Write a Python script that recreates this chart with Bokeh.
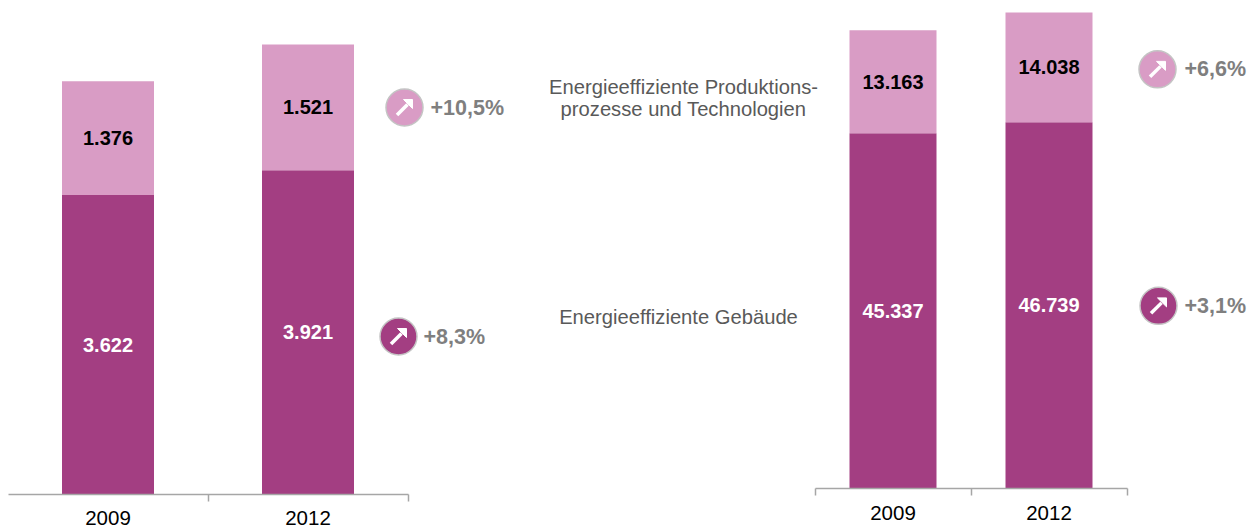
from bokeh.embed import file_html
from bokeh.resources import INLINE
from bokeh.plotting import figure
from bokeh.layouts import row
from bokeh.models import Range1d, LinearAxis, FixedTicker
from bokeh.core.properties import value

years = ["2009", "2012"]
left_gebaeude = [3622, 3921]
left_produktion = [1376, 1521]
right_gebaeude = [45337, 46739]
right_produktion = [13163, 14038]
label_gebaeude = "Energieeffiziente Gebäude"
label_produktion = ["Energieeffiziente Produktions-", "prozesse und Technologien"]

DARK, LIGHT = "#A33E82", "#D99CC5"
GREY, AXIS = "#7F7F7F", "#A6A6A6"
FONT = value("Liberation Sans")
fmt = lambda v: f"{v:,}".replace(",", ".")


def chart(x0, border_left, frame_w, frame_h, bottom, unit_px, val_px, bar_w, low, high, standoff):
    p = figure(width=border_left + frame_w, height=frame_h + bottom, output_backend="svg", toolbar_location=None,
               x_range=Range1d(x0, x0 + frame_w / unit_px), y_range=Range1d(0, frame_h / val_px),
               min_border_left=border_left, min_border_right=0, min_border_top=0, min_border_bottom=bottom,
               outline_line_color=None, background_fill_color=None, border_fill_color=None,
               x_axis_location=None, y_axis_location=None)
    p.grid.visible = False
    xs = [0.5, 1.5]
    totals = [a + b for a, b in zip(low, high)]
    p.vbar(x=xs, width=bar_w, bottom=0, top=low, fill_color=DARK, line_color=None)
    p.vbar(x=xs, width=bar_w, bottom=low, top=totals, fill_color=LIGHT, line_color=None)
    p.text(x=xs, y=[v / 2 for v in low], text=[fmt(v) for v in low], text_color="white",
           text_font=FONT, text_font_style="bold", text_font_size="20px",
           text_align="center", text_baseline="middle")
    p.text(x=xs, y=[a + b / 2 for a, b in zip(low, high)], text=[fmt(v) for v in high], text_color="black",
           text_font=FONT, text_font_style="bold", text_font_size="20px",
           text_align="center", text_baseline="middle")
    axis = LinearAxis(ticker=FixedTicker(ticks=xs, minor_ticks=[0, 1, 2]), bounds=(0, 2),
                      major_label_overrides={0.5: years[0], 1.5: years[1]},
                      major_tick_in=0, major_tick_out=0, minor_tick_in=0, minor_tick_out=7,
                      axis_line_color=AXIS, minor_tick_line_color=AXIS, axis_line_width=1.5,
                      minor_tick_line_width=1.5, major_label_standoff=standoff,
                      major_label_text_font="Liberation Sans", major_label_text_font_size="20.5px",
                      major_label_text_color="black")
    p.add_layout(axis, "below")
    return p


def badge(p, to_x, to_y, cx, cy, colour, text, tx):
    p.scatter([to_x(cx)], [to_y(cy)], size=37, fill_color=colour, line_color="#C4C4C4", line_width=1.5)
    p.segment([to_x(cx - 7.5)], [to_y(cy + 7.5)], [to_x(cx + 3)], [to_y(cy - 3)],
              line_color="white", line_width=3.5)
    p.patch([to_x(cx + 8), to_x(cx - 1), to_x(cx + 8)], [to_y(cy - 8), to_y(cy - 8), to_y(cy + 1)],
            fill_color="white", line_color="white", line_width=1)
    p.text([to_x(tx)], [to_y(cy)], text=[text], text_color=GREY, text_font=FONT, text_font_style="bold",
           text_font_size="21.5px", text_align="left", text_baseline="middle")


# Left chart: frame spans page x 8..538, y 0..494
L_X, L_Y = 200, 0.0827
L0 = 0.5 / L_X
left = chart(L0, 8, 530, 494, 38, L_X, L_Y, 0.46, left_gebaeude, left_produktion, 9)
lx = lambda px: (px - 7.5) / L_X
ly = lambda py: (494 - py) / L_Y
badge(left, lx, ly, 404, 107, LIGHT, "+10,5%", 430)
badge(left, lx, ly, 398, 336, DARK, "+8,3%", 423)

# Right chart: frame spans page x 538..1255, y 0..489
R_X, R_Y = 156, 0.00785
R0 = (538 - 814.5) / R_X
right = chart(R0, 0, 717, 489, 37, R_X, R_Y, 0.5577, right_gebaeude, right_produktion, 10)
rx = lambda px: (px - 814.5) / R_X
ry = lambda py: (489 - py) / R_Y
badge(right, rx, ry, 1157, 69, LIGHT, "+6,6%", 1184)
badge(right, rx, ry, 1158, 306, DARK, "+3,1%", 1184)
for line, py in zip(label_produktion + [label_gebaeude], [87, 109, 317]):
    right.text([rx(683 if py < 200 else 678)], [ry(py)], text=[line], text_color="#595959", text_font=FONT,
               text_font_size="20.2px", text_align="center", text_baseline="middle")

layout = row(left, right, spacing=0)
open("out.html", "w").write(file_html(layout, INLINE))
